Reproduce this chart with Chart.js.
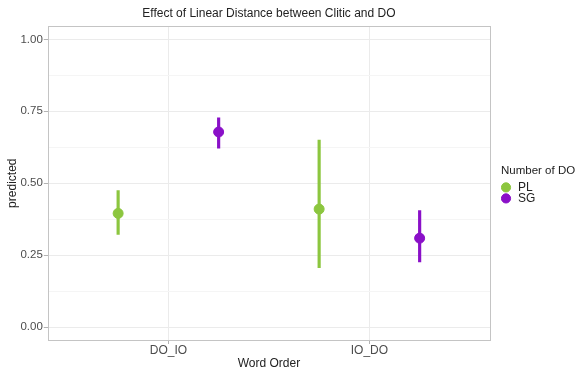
<!DOCTYPE html>
<html>
<head>
<meta charset="utf-8">
<script src="https://cdn.jsdelivr.net/npm/chart.js@4/dist/chart.umd.min.js"></script>
<style>body{margin:0;background:#fff}</style>
</head>
<body>
<canvas id="c" width="578" height="370"></canvas>
<script>
const categories = ["DO_IO", "IO_DO"];
const groups = ["PL", "SG"];
const plPredicted = [0.395, 0.41];
const plLow = [0.322, 0.206];
const plHigh = [0.474, 0.65];
const sgPredicted = [0.678, 0.309];
const sgLow = [0.622, 0.226];
const sgHigh = [0.727, 0.405];
const yTicks = [0, 0.25, 0.5, 0.75, 1];
const yMinor = [0.125, 0.375, 0.625, 0.875];

const green = "#8cc63f";
const purple = "#8a10c8";
const dodge = 0.25;
const font = "'Liberation Sans', Arial, sans-serif";

function bars(low, high, off) {
  return categories.map((c, i) => ({ x: i + 1 + off, y: [low[i], high[i]] }));
}
function points(vals, off) {
  return categories.map((c, i) => ({ x: i + 1 + off, y: vals[i] }));
}

const panelBorder = {
  id: "panelBorder",
  afterDraw(chart) {
    const a = chart.chartArea, ctx = chart.ctx;
    ctx.save();
    ctx.strokeStyle = "#c4c4c4";
    ctx.lineWidth = 1;
    ctx.strokeRect(Math.round(a.left) + 0.5, Math.round(a.top) + 0.5,
      Math.round(a.right - a.left), Math.round(a.bottom - a.top));
    ctx.restore();
  }
};

// legend box must be wide enough for its title, and sit a bit right of the panel
const legendBox = {
  id: "legendBox",
  beforeInit(chart) {
    const lg = chart.legend;
    const fit = lg.fit.bind(lg);
    lg.fit = function () { fit(); this.width = Math.max(this.width, 88); };
  },
  afterLayout(chart) {
    chart.legend.left += 11;
    chart.legend.right += 11;
    chart.legend.top -= 2;
    chart.legend.bottom -= 2;
  }
};

new Chart(document.getElementById("c"), {
  data: {
    datasets: [
      { type: "bar", label: "PL bar", data: bars(plLow, plHigh, -dodge),
        backgroundColor: green, barThickness: 2.5, grouped: false, order: 2 },
      { type: "bar", label: "SG bar", data: bars(sgLow, sgHigh, dodge),
        backgroundColor: purple, barThickness: 2.5, grouped: false, order: 2 },
      { type: "scatter", label: groups[0], data: points(plPredicted, -dodge),
        backgroundColor: green, borderColor: green, pointRadius: 5, pointStyle: "circle", order: 1 },
      { type: "scatter", label: groups[1], data: points(sgPredicted, dodge),
        backgroundColor: purple, borderColor: purple, pointRadius: 5, pointStyle: "circle", order: 1 }
    ]
  },
  options: {
    responsive: false,
    animation: false,
    layout: { padding: { top: 2, right: 0, bottom: 0, left: 0 } },
    plugins: {
      tooltip: { enabled: false },
      title: {
        display: true,
        text: "Effect of Linear Distance between Clitic and DO",
        fullSize: false,
        color: "#222",
        font: { family: font, size: 12, weight: "normal" },
        padding: { top: 4, bottom: 6 }
      },
      legend: {
        position: "right",
        title: {
          display: true,
          text: "Number of DO",
          position: "start",
          color: "#222",
          font: { family: font, size: 11.5 },
          padding: { top: 0, bottom: 4 }
        },
        labels: {
          filter: (item) => groups.includes(item.text),
          usePointStyle: true,
          pointStyle: "circle",
          boxWidth: 12,
          boxHeight: 6.5,
          padding: -1,
          color: "#222",
          font: { family: font, size: 12 }
        }
      }
    },
    scales: {
      x: {
        type: "linear",
        min: 0.4,
        max: 2.6,
        offset: false,
        afterBuildTicks: (s) => { s.ticks = categories.map((c, i) => ({ value: i + 1 })); },
        ticks: {
          autoSkip: false,
          maxRotation: 0,
          callback: (v) => categories[v - 1],
          color: "#4d4d4d",
          font: { family: font, size: 12, lineHeight: 1 },
          padding: 1
        },
        grid: { offset: false, color: "#ebebeb", tickColor: "#b3b3b3", tickLength: 4 },
        border: { display: false },
        title: {
          display: true,
          text: "Word Order",
          color: "#222",
          font: { family: font, size: 12, lineHeight: 1 },
          padding: { top: 0, bottom: 0 }
        }
      },
      y: {
        type: "linear",
        min: -0.045,
        max: 1.045,
        afterBuildTicks: (s) => {
          s.ticks = yTicks.concat(yMinor).sort((a, b) => a - b).map((v) => ({ value: v }));
        },
        ticks: {
          autoSkip: false,
          callback: (v) => yTicks.includes(v) ? v.toFixed(2) : "",
          color: "#4d4d4d",
          font: { family: font, size: 11.5 },
          padding: 1
        },
        grid: {
          color: (ctx) => yTicks.includes(ctx.tick.value) ? "#ebebeb" : "#f5f5f5",
          tickColor: (ctx) => yTicks.includes(ctx.tick.value) ? "#b3b3b3" : "rgba(0,0,0,0)",
          tickLength: 4
        },
        border: { display: false },
        title: {
          display: true,
          text: "predicted",
          color: "#222",
          font: { family: font, size: 12 },
          padding: { top: 5, bottom: 0 }
        }
      }
    }
  },
  plugins: [panelBorder, legendBox]
});
</script>
</body>
</html>
